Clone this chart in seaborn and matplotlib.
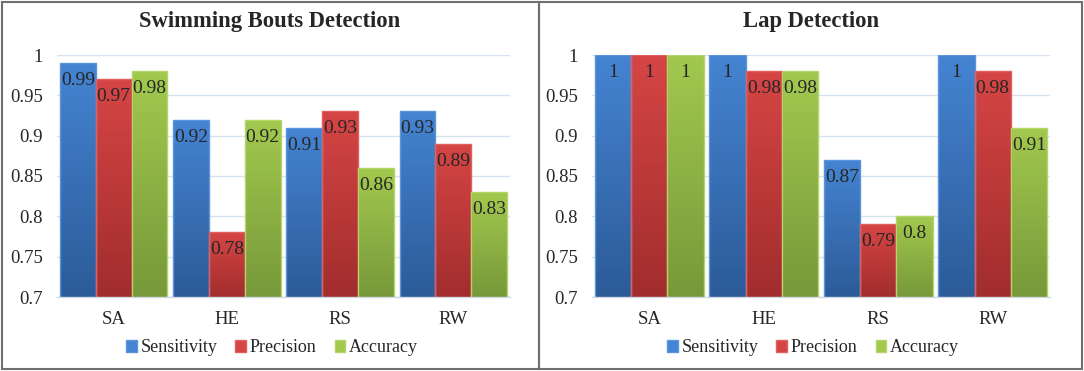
import matplotlib
matplotlib.use("Agg")
import matplotlib.pyplot as plt
import matplotlib.patches as mpatches
from matplotlib.colors import to_rgb
import seaborn as sns
import pandas as pd
import numpy as np

sns.set_style("white")
plt.rcParams['font.family'] = ['Liberation Serif', 'DejaVu Serif']

categories = ['SA', 'HE', 'RS', 'RW']
metrics = ['Sensitivity', 'Precision', 'Accuracy']

bouts_sensitivity = [0.99, 0.92, 0.91, 0.93]
bouts_precision = [0.97, 0.78, 0.93, 0.89]
bouts_accuracy = [0.98, 0.92, 0.86, 0.83]

lap_sensitivity = [1, 1, 0.87, 1]
lap_precision = [1, 0.98, 0.79, 0.98]
lap_accuracy = [1, 0.98, 0.80, 0.91]

yticks = [0.7, 0.75, 0.8, 0.85, 0.9, 0.95, 1]

# top / bottom colours of the gradient per metric
top_cols = {'Sensitivity': '#4584d2', 'Precision': '#d64545', 'Accuracy': '#a2c94e'}
bot_cols = {'Sensitivity': '#2c5b98', 'Precision': '#a22d2d', 'Accuracy': '#77993a'}
edge_cols = {'Sensitivity': '#5b95dc', 'Precision': '#e06060', 'Accuracy': '#b3d66a'}


def make_df(sens, prec, acc):
    rows = []
    for i, c in enumerate(categories):
        rows.append([c, 'Sensitivity', sens[i]])
        rows.append([c, 'Precision', prec[i]])
        rows.append([c, 'Accuracy', acc[i]])
    return pd.DataFrame(rows, columns=['Activity', 'Metric', 'Value'])


def draw_panel(ax, df):
    pal = {m: top_cols[m] for m in metrics}
    sns.barplot(data=df, x='Activity', y='Value', hue='Metric', hue_order=metrics,
                order=categories, palette=pal, width=0.95, gap=0, ax=ax,
                legend=False, zorder=2)
    ax.set_ylim(0.7, 1.0)
    ax.set_xlim(-0.5, 3.5)
    for cont, m in zip(ax.containers, metrics):
        c0 = np.array(to_rgb(bot_cols[m]))
        c1 = np.array(to_rgb(top_cols[m]))
        t = np.linspace(0, 1, 64)[:, None, None]
        grad = c0 * (1 - t) + c1 * t
        for bar, v in zip(cont, cont.datavalues):
            x0, w, h = bar.get_x(), bar.get_width(), bar.get_height()
            y0 = bar.get_y()
            bar.set_facecolor('none')
            bar.set_edgecolor(edge_cols[m])
            bar.set_linewidth(1.0)
            im = ax.imshow(grad, extent=[x0, x0 + w, 0.7, y0 + h], origin='lower',
                           aspect='auto', zorder=1.9, interpolation='bilinear')
            im.set_clip_path(bar)
            ax.annotate(f"{v:g}", (x0 + w / 2, v), xytext=(0, -6.5),
                        textcoords='offset points', ha='center', va='top',
                        fontsize=14, zorder=3)
    ax.set_xlim(-0.5, 3.5)
    ax.set_ylim(0.7, 1.0)
    ax.set_yticks(yticks)
    ax.set_yticklabels([f"{v:g}" for v in yticks])
    ax.yaxis.grid(True, color='#d6e2f0', linewidth=1.0, zorder=0)
    ax.set_axisbelow(True)
    for s in ['top', 'right', 'left']:
        ax.spines[s].set_visible(False)
    ax.spines['bottom'].set_color('#d0d8e4')
    ax.spines['bottom'].set_linewidth(1.0)
    ax.tick_params(axis='both', length=0, labelsize=13.5)
    ax.tick_params(axis='y', pad=10)
    ax.tick_params(axis='x', pad=10)
    ax.set_xlabel('')
    ax.set_ylabel('')


W, H = 1084, 371
fig = plt.figure(figsize=(W / 100, H / 100), dpi=100)

ax1 = fig.add_axes([57 / W, (H - 297) / H, (510 - 57) / W, (297 - 55) / H])
ax2 = fig.add_axes([592 / W, (H - 297) / H, (1050 - 592) / W, (297 - 55) / H])

draw_panel(ax1, make_df(bouts_sensitivity, bouts_precision, bouts_accuracy))
draw_panel(ax2, make_df(lap_sensitivity, lap_precision, lap_accuracy))

fig.text(270 / W, (H - 22) / H, 'Swimming Bouts Detection', ha='center', va='center',
         fontsize=16.3, fontweight='bold')
fig.text(811 / W, (H - 22) / H, 'Lap Detection', ha='center', va='center',
         fontsize=16.3, fontweight='bold')

handles = [mpatches.Patch(facecolor=top_cols[m], edgecolor=edge_cols[m], label=m)
           for m in metrics]
for cx in [272, 813]:
    fig.legend(handles=handles, loc='center', bbox_to_anchor=(cx / W, (H - 348) / H),
               ncol=3, frameon=False, fontsize=13, handlelength=0.6, handleheight=0.6,
               handletextpad=0.2, columnspacing=1.0)

# panel borders
for x0, x1 in [(2, 539), (539, 1082)]:
    fig.patches.append(mpatches.Rectangle((x0 / W, 2 / H), (x1 - x0) / W, (H - 4) / H,
                                          transform=fig.transFigure, fill=False,
                                          edgecolor='#6f6f6f', linewidth=1.5))

fig.savefig('out.png', dpi=100)
